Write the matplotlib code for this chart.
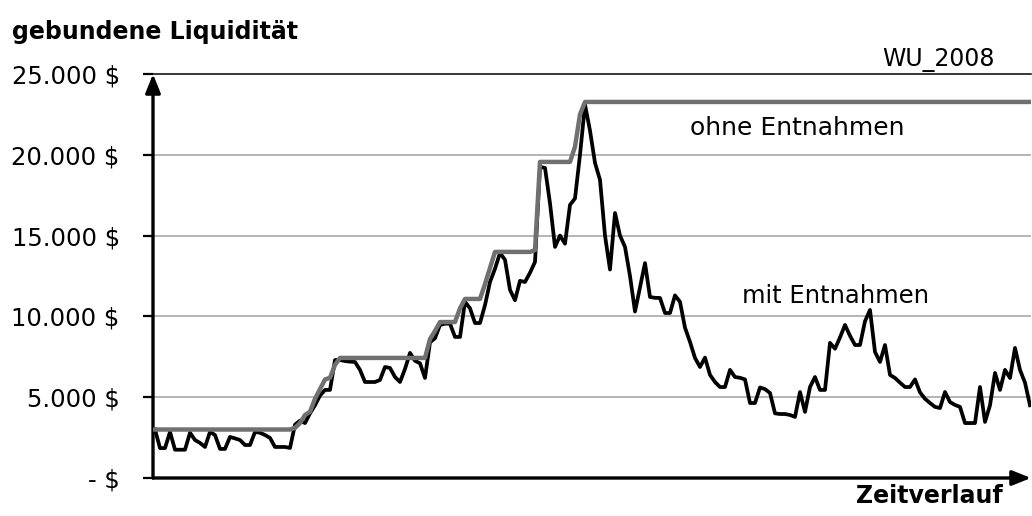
import matplotlib
matplotlib.use("Agg")
import matplotlib.pyplot as plt

# Gebundene Liquidität je Periode (mit Entnahmen)
mit_entnahmen = [
    3000, 1850, 1850, 2850, 1750, 1750, 1750, 2800, 2350, 2170, 1920, 2850,
    2660, 1800, 1800, 2540, 2450, 2350, 2040, 2040, 2850, 2800, 2660, 2480,
    1920, 1920, 1920, 1860, 3300, 3550, 3400, 4000, 4500, 5100, 5450, 5450,
    7300, 7300, 7240, 7200, 7180, 6690, 5940, 5940, 5940, 6070, 6870, 6810,
    6250, 5940, 6750, 7740, 7250, 7100, 6190, 8400, 8650, 9470, 9550, 9550,
    8730, 8730, 10900, 10500, 9590, 9590, 10700, 12130, 12950, 13930, 13500, 11640,
    11000, 12200, 12130, 12700, 13370, 19250, 19190, 17000, 14300, 15000, 14500, 16900,
    17300, 20000, 23100, 21500, 19500, 18450, 15000, 12900, 16400, 15000, 14300, 12500,
    10300, 11800, 13300, 11200, 11150, 11140, 10210, 10210, 11300, 10900, 9300, 8420,
    7430, 6870, 7450, 6380, 5940, 5630, 5630, 6690, 6250, 6200, 6100, 4640,
    4640, 5600, 5500, 5260, 4000, 3960, 3960, 3900, 3780, 5320, 4090, 5630,
    6250, 5450, 5450, 8360, 8000, 8700, 9470, 8800, 8230, 8230, 9700, 10400,
    7800, 7180, 8230, 6380, 6190, 5900, 5630, 5630, 6100, 5300, 4900, 4640,
    4400, 4330, 5320, 4700, 4520, 4400, 3400, 3400, 3400, 5630, 3470, 4500,
    6500, 5450, 6690, 6190, 8050, 6690, 5900, 4500,
]
perioden = list(range(len(mit_entnahmen)))

# Ohne Entnahmen: Eckpunkte (Periode, Wert) der Stufenlinie
ohne_t = [0, 27, 28, 29, 30, 31, 32, 33, 34, 35, 36, 37, 54, 55, 56, 57, 60, 61,
          62, 65, 66, 67, 68, 75, 76, 77, 83, 84, 85, 86, 175]
ohne_val = [3000, 3000, 3100, 3400, 3900, 4100, 4900, 5500, 6100, 6200, 7000, 7430,
            7430, 8600, 9100, 9650, 9650, 10500, 11080, 11080, 12000, 13000, 13990,
            13990, 14100, 19560, 19560, 20500, 22500, 23270, 23270]

y_ticks = [0, 5000, 10000, 15000, 20000, 25000]
y_labels = ["- $", "5.000 $", "10.000 $", "15.000 $", "20.000 $", "25.000 $"]

W, H = 1032, 516
fig = plt.figure(figsize=(W / 100, H / 100), dpi=100)
ax = fig.add_axes([153 / W, 38 / H, 878 / W, 404 / H])

ax.plot(perioden, mit_entnahmen, color="black", lw=2.7, solid_joinstyle="round", zorder=3)
ax.plot(ohne_t, ohne_val, color="#707070", lw=3.2, zorder=4)

ax.set_xlim(-0.4, len(mit_entnahmen) - 1 + 0.2)
ax.set_ylim(0, 25000)
ax.set_xticks([])
ax.set_yticks(y_ticks, y_labels)
ax.tick_params(axis="y", direction="out", length=7, width=1.6, pad=17,
               labelsize=17.5, colors="black")

for y in y_ticks[1:-1]:
    ax.axhline(y, color="#a0a0a0", lw=1.1, zorder=1)

for s in ["left", "bottom", "right"]:
    ax.spines[s].set_visible(False)
ax.spines["top"].set_color("black")
ax.spines["top"].set_linewidth(1.1)

# Achsenpfeile
arrow = dict(arrowstyle="-|>,head_length=0.75,head_width=0.3", color="black",
             lw=2.4, mutation_scale=15, shrinkA=0, shrinkB=0)
ax.annotate("", xy=(0, 1.0), xytext=(0, 0), xycoords="axes fraction",
            arrowprops=arrow, annotation_clip=False)
ax.annotate("", xy=(1.0, 0), xytext=(0, 0), xycoords="axes fraction",
            arrowprops=arrow, annotation_clip=False)

fig.text(12 / W, 1 - 32 / H, "gebundene Liquidität", fontsize=17, fontweight="bold",
         ha="left", va="center")
fig.text(995 / W, 1 - 60 / H, "WU_2008", fontsize=17, ha="right", va="center")
fig.text(797 / W, 1 - 128 / H, "ohne Entnahmen", fontsize=18, ha="center", va="center")
fig.text(836 / W, 1 - 296 / H, "mit Entnahmen", fontsize=17.5, ha="center", va="center")
fig.text(1003 / W, 1 - 496 / H, "Zeitverlauf", fontsize=17, fontweight="bold",
         ha="right", va="center")

fig.savefig("out.png", dpi=100)
